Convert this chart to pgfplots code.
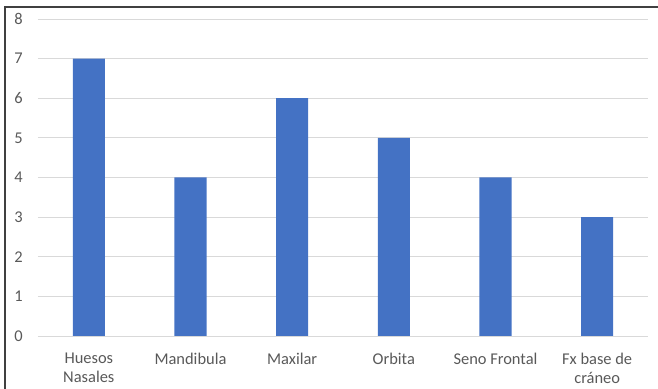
\documentclass[border=0pt]{standalone}
\usepackage{pgfplots}
\pgfplotsset{compat=1.18}
\usepackage{fontspec}
\setmainfont{Carlito}
\definecolor{barblue}{HTML}{4472C4}
\definecolor{gridgray}{HTML}{D9D9D9}
\definecolor{labelgray}{HTML}{595959}
\definecolor{framegray}{HTML}{404040}
\begin{document}
\begin{tikzpicture}
\useasboundingbox (0,0) rectangle (658bp,389bp);
% chart frame (top and left edges)
\draw[line width=1.5bp, framegray] (5bp,0) -- (5bp,382bp) -- (658bp,382bp);
\begin{axis}[
  at={(38bp,53bp)}, anchor=south west,
  scale only axis,
  width=610bp, height=317bp,
  xmin=-0.5, xmax=5.5, ymin=0, ymax=8,
  ytick={0,1,...,8},
  xtick=data,
  xticklabels={Huesos\\Nasales, Mandibula, Maxilar, Orbita, Seno Frontal, Fx base de\\cráneo},
  major tick length=0,
  axis line style={draw=none},
  ymajorgrids, grid style={gridgray, line width=0.9bp},
  /pgf/number format/assume math mode=true,
  tick label style={font=\fontsize{16.5}{19.5}\selectfont, text=labelgray},
  xticklabel style={align=center, anchor=north, inner sep=0pt, yshift=-16.5bp},
  yticklabel style={anchor=east, inner sep=0pt, xshift=-15bp},
  ybar, bar width=0.315,
  clip=false,
]
\addplot[fill=barblue, draw=none] coordinates {(0,7) (1,4) (2,6) (3,5) (4,4) (5,3)};
\end{axis}
\end{tikzpicture}
\end{document}
